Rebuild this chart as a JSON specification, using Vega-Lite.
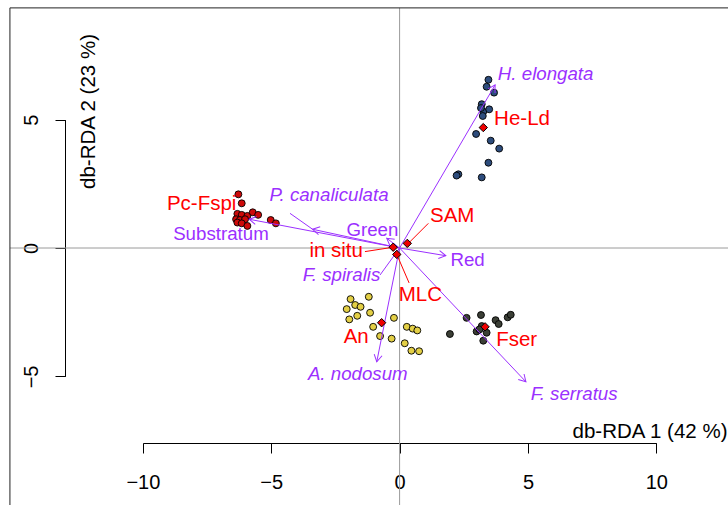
{
  "$schema": "https://vega.github.io/schema/vega-lite/v6.json",
  "width": 728,
  "height": 505,
  "padding": 0,
  "autosize": {"type": "none"},
  "background": "white",
  "config": {"view": {"stroke": null}, "font": "Liberation Sans"},
  "datasets": {
    "sites": [
      {"group": "He-Ld", "x": 3.46, "y": 6.55}, {"group": "He-Ld", "x": 3.39, "y": 6.28}, {"group": "He-Ld", "x": 3.68, "y": 6.05},
      {"group": "He-Ld", "x": 3.20, "y": 5.60}, {"group": "He-Ld", "x": 3.26, "y": 5.31}, {"group": "He-Ld", "x": 3.49, "y": 5.40},
      {"group": "He-Ld", "x": 3.24, "y": 5.14}, {"group": "He-Ld", "x": 3.17, "y": 5.45}, {"group": "He-Ld", "x": 2.98, "y": 4.44},
      {"group": "He-Ld", "x": 3.55, "y": 4.18}, {"group": "He-Ld", "x": 3.88, "y": 3.87}, {"group": "He-Ld", "x": 3.46, "y": 3.32},
      {"group": "He-Ld", "x": 2.29, "y": 2.87}, {"group": "He-Ld", "x": 2.22, "y": 2.82}, {"group": "He-Ld", "x": 3.20, "y": 2.75},
      {"group": "Pc-Fspi", "x": -6.28, "y": 2.09}, {"group": "Pc-Fspi", "x": -6.15, "y": 1.74}, {"group": "Pc-Fspi", "x": -6.32, "y": 1.33},
      {"group": "Pc-Fspi", "x": -6.15, "y": 1.29}, {"group": "Pc-Fspi", "x": -5.93, "y": 1.25}, {"group": "Pc-Fspi", "x": -5.72, "y": 1.39},
      {"group": "Pc-Fspi", "x": -5.51, "y": 1.29}, {"group": "Pc-Fspi", "x": -6.37, "y": 1.12}, {"group": "Pc-Fspi", "x": -6.22, "y": 1.09},
      {"group": "Pc-Fspi", "x": -6.02, "y": 1.12}, {"group": "Pc-Fspi", "x": -6.32, "y": 0.99}, {"group": "Pc-Fspi", "x": -6.15, "y": 0.96},
      {"group": "Pc-Fspi", "x": -5.93, "y": 0.86}, {"group": "Pc-Fspi", "x": -5.02, "y": 1.09}, {"group": "Pc-Fspi", "x": -4.82, "y": 0.96},
      {"group": "An", "x": -1.91, "y": -1.99}, {"group": "An", "x": -1.20, "y": -1.90}, {"group": "An", "x": -2.06, "y": -2.38},
      {"group": "An", "x": -1.73, "y": -2.22}, {"group": "An", "x": -1.52, "y": -2.29}, {"group": "An", "x": -1.15, "y": -2.52},
      {"group": "An", "x": -1.96, "y": -2.78}, {"group": "An", "x": -1.65, "y": -2.64}, {"group": "An", "x": -1.03, "y": -3.07},
      {"group": "An", "x": -0.22, "y": -2.72}, {"group": "An", "x": -0.76, "y": -3.43}, {"group": "An", "x": -0.31, "y": -3.53},
      {"group": "An", "x": 0.28, "y": -3.07}, {"group": "An", "x": 0.51, "y": -3.14}, {"group": "An", "x": 0.69, "y": -3.21},
      {"group": "An", "x": 0.20, "y": -3.71}, {"group": "An", "x": 0.46, "y": -4.00}, {"group": "An", "x": 0.76, "y": -4.02},
      {"group": "Fser", "x": 2.61, "y": -2.72}, {"group": "Fser", "x": 3.17, "y": -2.61}, {"group": "Fser", "x": 3.74, "y": -2.81},
      {"group": "Fser", "x": 3.86, "y": -2.96}, {"group": "Fser", "x": 4.21, "y": -2.70}, {"group": "Fser", "x": 4.33, "y": -2.60},
      {"group": "Fser", "x": 1.96, "y": -3.35}, {"group": "Fser", "x": 3.00, "y": -3.25}, {"group": "Fser", "x": 3.20, "y": -3.04},
      {"group": "Fser", "x": 3.39, "y": -3.30}, {"group": "Fser", "x": 3.26, "y": -3.61}, {"group": "Fser", "x": 3.11, "y": -3.17}
    ],
    "frame": [
      {"part": "zero", "x": 0, "y": 9.35, "x2": 0, "y2": -11},
      {"part": "zero", "x": -15.18, "y": 0, "x2": 14, "y2": 0},
      {"part": "box", "x": -15.18, "y": 9.35, "x2": -15.18, "y2": -11},
      {"part": "box", "x": -15.18, "y": 9.35, "x2": 14, "y2": 9.35}
    ],
    "centroids": [
      {"name": "He-Ld", "x": 3.26, "y": 4.69},
      {"name": "An", "x": -0.70, "y": -2.91}, {"name": "Fser", "x": 3.33, "y": -3.07},
      {"name": "SAM", "x": 0.30, "y": 0.18}, {"name": "in situ", "x": -0.25, "y": 0.03},
      {"name": "MLC", "x": -0.11, "y": -0.25}
    ],
    "arrows": [
      {"name": "H. elongata", "x0": 0, "y0": 0, "x": 3.72, "y": 6.35}, {"name": "P. canaliculata", "x0": 0, "y0": 0, "x": -3.39, "y": 0.73},
      {"name": "Substratum", "x0": 0, "y0": 0, "x": -5.86, "y": 1.12}, {"name": "Green", "x0": 0, "y0": 0, "x": -0.50, "y": 0.38},
      {"name": "Red", "x0": 0, "y0": 0, "x": 1.80, "y": -0.30}, {"name": "A. nodosum", "x0": 0, "y0": 0, "x": -0.89, "y": -4.43},
      {"name": "F. serratus", "x0": 0, "y0": 0, "x": 4.92, "y": -5.21}
    ],
    "spLeaders": [
      {"name": "P. canaliculata", "x": -4.27, "y": 1.35, "x2": -3.39, "y2": 0.73},
      {"name": "F. spiralis", "x": 0, "y": 0, "x2": -0.76, "y2": -1.05}
    ],
    "cenLeaders": [
      {"name": "SAM", "x": 0.34, "y": 0.18, "x2": 1.12, "y2": 0.96},
      {"name": "in situ", "x": -1.35, "y": -0.14, "x2": -0.25, "y2": 0.03},
      {"name": "MLC", "x": -0.11, "y": -0.25, "x2": 0.37, "y2": -1.36}
    ],
    "labels": [
      {"label": "H. elongata", "kind": "species", "x": 5.69, "y": 6.78},
      {"label": "P. canaliculata", "kind": "species", "x": -2.75, "y": 2.07},
      {"label": "F. spiralis", "kind": "species", "x": -2.26, "y": -1.04},
      {"label": "A. nodosum", "kind": "species", "x": -1.63, "y": -4.89},
      {"label": "F. serratus", "kind": "species", "x": 6.80, "y": -5.69},
      {"label": "Substratum", "kind": "env", "x": -6.96, "y": 0.55},
      {"label": "Green", "kind": "env", "x": -1.06, "y": 0.70},
      {"label": "Red", "kind": "env", "x": 2.65, "y": -0.47},
      {"label": "He-Ld", "kind": "centroid", "x": 4.77, "y": 5.01},
      {"label": "Pc-Fspi", "kind": "centroid", "x": -7.71, "y": 1.70},
      {"label": "SAM", "kind": "centroid", "x": 2.05, "y": 1.25},
      {"label": "in situ", "kind": "centroid", "x": -2.47, "y": -0.12},
      {"label": "MLC", "kind": "centroid", "x": 0.81, "y": -1.84},
      {"label": "An", "kind": "centroid", "x": -1.69, "y": -3.48},
      {"label": "Fser", "kind": "centroid", "x": 4.56, "y": -3.59}
    ]
  },
  "layer": [
    {
      "data": {"name": "frame"},
      "transform": [{"filter": "datum.part === 'zero'"}],
      "mark": {"type": "rule", "strokeWidth": 1, "color": "#9a9a9a"},
      "encoding": {
        "x": {"field": "x", "type": "quantitative",
          "scale": {"domain": [-10, 10], "range": [142.9, 656.3], "nice": false, "zero": false},
          "axis": {"values": [-10, -5, 0, 5, 10], "offset": -62, "grid": false, "domainColor": "black", "domainWidth": 1,
            "tickColor": "black", "tickWidth": 1, "tickSize": 10, "labelFont": "Liberation Sans", "labelFontSize": 20,
            "labelColor": "black", "labelPadding": 29, "labelBaseline": "middle", "labelAlign": "center", "labelFlush": false, "labelOverlap": false,
            "title": "db-RDA 1 (42 %)", "titleFont": "Liberation Sans", "titleFontSize": 20.5, "titleFontWeight": "normal", "titleColor": "black",
            "titleX": 727, "titleY": -12, "titleAlign": "right", "titleBaseline": "middle", "titleAngle": 0}},
        "y": {"field": "y", "type": "quantitative",
          "scale": {"domain": [-5, 5], "range": [376.4, 119.6], "nice": false, "zero": false},
          "axis": {"values": [-5, 0, 5], "offset": -65, "grid": false, "domainColor": "black", "domainWidth": 1,
            "tickColor": "black", "tickWidth": 1, "tickSize": 10, "labelFont": "Liberation Sans", "labelFontSize": 20,
            "labelColor": "black", "labelPadding": 24, "labelAngle": -90, "labelBaseline": "middle", "labelAlign": "center", "labelFlush": false, "labelOverlap": false,
            "title": "db-RDA 2 (23 %)", "titleFont": "Liberation Sans", "titleFontSize": 20.5, "titleFontWeight": "normal", "titleColor": "black",
            "titleX": 23, "titleY": 111, "titleAlign": "center", "titleBaseline": "middle", "titleAngle": -90}},
        "x2": {"field": "x2"},
        "y2": {"field": "y2"}
      }
    },
    {
      "data": {"name": "frame"},
      "transform": [{"filter": "datum.part === 'box'"}],
      "mark": {"type": "rule", "strokeWidth": 1, "color": "#222222"},
      "encoding": {
        "x": {"field": "x", "type": "quantitative", "scale": {"domain": [-10, 10], "range": [142.9, 656.3], "nice": false, "zero": false}},
        "y": {"field": "y", "type": "quantitative", "scale": {"domain": [-5, 5], "range": [376.4, 119.6], "nice": false, "zero": false}},
        "x2": {"field": "x2"},
        "y2": {"field": "y2"}
      }
    },
    {
      "data": {"name": "sites"},
      "mark": {"type": "circle", "size": 48, "stroke": "black", "strokeWidth": 0.9, "opacity": 1},
      "encoding": {
        "x": {"field": "x", "type": "quantitative", "scale": {"domain": [-10, 10], "range": [142.9, 656.3], "nice": false, "zero": false}},
        "y": {"field": "y", "type": "quantitative", "scale": {"domain": [-5, 5], "range": [376.4, 119.6], "nice": false, "zero": false}},
        "color": {"field": "group", "type": "nominal", "scale": {"domain": ["He-Ld", "Pc-Fspi", "An", "Fser"], "range": ["#2d4c7c", "#cd0a0a", "#e3cf45", "#3b3f36"]}, "legend": null}
      }
    },
    {
      "data": {"name": "arrows"},
      "mark": {"type": "rule", "color": "#9b30ff", "strokeWidth": 1},
      "encoding": {
        "x": {"field": "x0", "type": "quantitative", "scale": {"domain": [-10, 10], "range": [142.9, 656.3], "nice": false, "zero": false}},
        "y": {"field": "y0", "type": "quantitative", "scale": {"domain": [-5, 5], "range": [376.4, 119.6], "nice": false, "zero": false}},
        "x2": {"field": "x"},
        "y2": {"field": "y"}
      }
    },
    {
      "data": {"name": "arrows"},
      "transform": [{"calculate": "atan2(datum.x, datum.y) * 180 / PI", "as": "ang"}],
      "mark": {"type": "point", "shape": "M-0.5,0.866L0,0L0.5,0.866", "filled": false, "color": "#9b30ff", "strokeWidth": 1, "size": 256, "opacity": 1},
      "encoding": {
        "x": {"field": "x", "type": "quantitative", "scale": {"domain": [-10, 10], "range": [142.9, 656.3], "nice": false, "zero": false}},
        "y": {"field": "y", "type": "quantitative", "scale": {"domain": [-5, 5], "range": [376.4, 119.6], "nice": false, "zero": false}},
        "angle": {"field": "ang", "type": "quantitative", "scale": null}
      }
    },
    {
      "data": {"name": "spLeaders"},
      "mark": {"type": "rule", "color": "#9b30ff", "strokeWidth": 1},
      "encoding": {
        "x": {"field": "x", "type": "quantitative", "scale": {"domain": [-10, 10], "range": [142.9, 656.3], "nice": false, "zero": false}},
        "y": {"field": "y", "type": "quantitative", "scale": {"domain": [-5, 5], "range": [376.4, 119.6], "nice": false, "zero": false}},
        "x2": {"field": "x2"},
        "y2": {"field": "y2"}
      }
    },
    {
      "data": {"name": "cenLeaders"},
      "mark": {"type": "rule", "color": "#ff0000", "strokeWidth": 1},
      "encoding": {
        "x": {"field": "x", "type": "quantitative", "scale": {"domain": [-10, 10], "range": [142.9, 656.3], "nice": false, "zero": false}},
        "y": {"field": "y", "type": "quantitative", "scale": {"domain": [-5, 5], "range": [376.4, 119.6], "nice": false, "zero": false}},
        "x2": {"field": "x2"},
        "y2": {"field": "y2"}
      }
    },
    {
      "data": {"name": "centroids"},
      "mark": {"type": "point", "shape": "diamond", "filled": true, "fill": "#ee0000", "stroke": "black", "strokeWidth": 1, "size": 70, "opacity": 1},
      "encoding": {
        "x": {"field": "x", "type": "quantitative", "scale": {"domain": [-10, 10], "range": [142.9, 656.3], "nice": false, "zero": false}},
        "y": {"field": "y", "type": "quantitative", "scale": {"domain": [-5, 5], "range": [376.4, 119.6], "nice": false, "zero": false}}
      }
    },
    {
      "data": {"name": "labels"},
      "transform": [{"filter": "datum.kind === 'species'"}],
      "mark": {"type": "text", "font": "Liberation Sans", "fontStyle": "italic", "fontSize": 18.7, "color": "#9b30ff", "align": "center", "baseline": "middle"},
      "encoding": {
        "x": {"field": "x", "type": "quantitative", "scale": {"domain": [-10, 10], "range": [142.9, 656.3], "nice": false, "zero": false}},
        "y": {"field": "y", "type": "quantitative", "scale": {"domain": [-5, 5], "range": [376.4, 119.6], "nice": false, "zero": false}},
        "text": {"field": "label"}
      }
    },
    {
      "data": {"name": "labels"},
      "transform": [{"filter": "datum.kind === 'env'"}],
      "mark": {"type": "text", "font": "Liberation Sans", "fontSize": 18.7, "color": "#9b30ff", "align": "center", "baseline": "middle"},
      "encoding": {
        "x": {"field": "x", "type": "quantitative", "scale": {"domain": [-10, 10], "range": [142.9, 656.3], "nice": false, "zero": false}},
        "y": {"field": "y", "type": "quantitative", "scale": {"domain": [-5, 5], "range": [376.4, 119.6], "nice": false, "zero": false}},
        "text": {"field": "label"}
      }
    },
    {
      "data": {"name": "labels"},
      "transform": [{"filter": "datum.kind === 'centroid'"}],
      "mark": {"type": "text", "font": "Liberation Sans", "fontSize": 20.5, "color": "#ff0000", "align": "center", "baseline": "middle"},
      "encoding": {
        "x": {"field": "x", "type": "quantitative", "scale": {"domain": [-10, 10], "range": [142.9, 656.3], "nice": false, "zero": false}},
        "y": {"field": "y", "type": "quantitative", "scale": {"domain": [-5, 5], "range": [376.4, 119.6], "nice": false, "zero": false}},
        "text": {"field": "label"}
      }
    }
  ]
}
